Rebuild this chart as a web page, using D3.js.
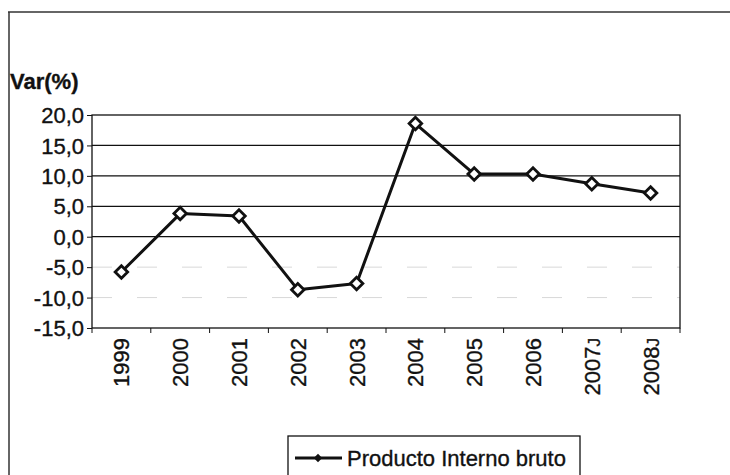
<!DOCTYPE html>
<html><head><meta charset="utf-8">
<script src="https://cdn.jsdelivr.net/npm/d3@7"></script>
<style>body{margin:0;background:#fff}svg{display:block}text{font-family:"Liberation Sans",Arial,sans-serif;stroke:#111;stroke-width:0.35px}</style>
</head><body>
<svg id="c" width="730" height="475"></svg>
<script>
const years = ["1999","2000","2001","2002","2003","2004","2005","2006","2007","2008"];
const yearNotes = ["","","","","","","","","J","J"];
const pib = [-5.8, 3.8, 3.4, -8.7, -7.7, 18.6, 10.3, 10.3, 8.7, 7.2];
const yTicks = [20, 15, 10, 5, 0, -5, -10, -15];
const seriesName = "Producto Interno bruto";
const yTitle = "Var(%)";

const svg = d3.select("#c");
const L = 92, R = 680, T = 115, B = 328;
const x = d3.scaleBand().domain(years).range([L, R]);
const y = d3.scaleLinear().domain([-15, 20]).range([B, T]);
const fmt = v => d3.format(".1f")(v).replace(".", ",").replace("−","-");
const FS = 22;

// outer frame
svg.append("line").attr("x1",8).attr("x2",730).attr("y1",12).attr("y2",12).attr("stroke","#333").attr("stroke-width",1.5);
svg.append("line").attr("x1",9).attr("x2",9).attr("y1",12).attr("y2",475).attr("stroke","#333").attr("stroke-width",1.5);

// gridlines
svg.append("g").selectAll("line").data(yTicks.filter(v => v > -15 && v < 20)).join("line")
  .attr("x1", L).attr("x2", R).attr("y1", d => y(d)).attr("y2", d => y(d))
  .attr("stroke", d => d >= 0 ? "#111" : "#d8d8d8")
  .attr("stroke-width", d => d >= 0 ? 1.2 : 1)
  .attr("stroke-dasharray", d => d >= 0 ? null : "20,25");

// plot frame
svg.append("rect").attr("x", L).attr("y", T).attr("width", R - L).attr("height", B - T)
  .attr("fill", "none").attr("stroke", "#111").attr("stroke-width", 1.3);

// y axis
const yAx = svg.append("g").attr("transform", `translate(${L},0)`)
  .call(d3.axisLeft(y).tickValues(yTicks).tickFormat(fmt).tickSize(5).tickPadding(3));
yAx.select(".domain").remove();
yAx.selectAll("line").attr("stroke", "#111");
yAx.selectAll("text").attr("font-size", FS).attr("fill", "#111").attr("dy", "0.35em");

// x axis ticks at band boundaries
const bounds = years.map(d => x(d)).concat([R]);
svg.append("g").selectAll("line").data(bounds).join("line")
  .attr("x1", d => d).attr("x2", d => d).attr("y1", B).attr("y2", B + 5)
  .attr("stroke", "#111");

// x labels rotated
const xl = svg.append("g").selectAll("text").data(years).join("text")
  .attr("transform", d => `translate(${x(d) + x.bandwidth() / 2 + 8},${B + 10}) rotate(-90)`)
  .attr("text-anchor", "end").attr("font-size", FS).attr("fill", "#111");
xl.append("tspan").text(d => d);
xl.append("tspan").attr("font-size", 17).text((d, i) => yearNotes[i]);

// y title
svg.append("text").attr("x", 10).attr("y", 89).attr("font-size", FS).attr("font-weight", "bold")
  .attr("fill", "#111").text(yTitle);

// line
const cx = d => x(d) + x.bandwidth() / 2;
svg.append("path").datum(pib)
  .attr("d", d3.line().x((d, i) => cx(years[i])).y(d => y(d)))
  .attr("fill", "none").attr("stroke", "#111").attr("stroke-width", 3).attr("stroke-linejoin", "round");

const diamond = d3.symbol().type(d3.symbolDiamond2).size(100);
svg.append("g").selectAll("path").data(pib).join("path")
  .attr("d", diamond)
  .attr("transform", (d, i) => `translate(${cx(years[i])},${y(d)})`)
  .attr("fill", "#fff").attr("stroke", "#111").attr("stroke-width", 2.8);

// legend
const lg = svg.append("g");
lg.append("rect").attr("x", 288).attr("y", 436).attr("width", 292).attr("height", 50)
  .attr("fill", "#fff").attr("stroke", "#111").attr("stroke-width", 1.3);
lg.append("line").attr("x1", 295).attr("x2", 342).attr("y1", 458).attr("y2", 458)
  .attr("stroke", "#111").attr("stroke-width", 3);
lg.append("path").attr("d", d3.symbol().type(d3.symbolDiamond2).size(45)())
  .attr("transform", "translate(318,458)").attr("fill", "#111");
lg.append("text").attr("x", 347).attr("y", 466).attr("font-size", FS).attr("fill", "#111").text(seriesName);
</script>
</body></html>
